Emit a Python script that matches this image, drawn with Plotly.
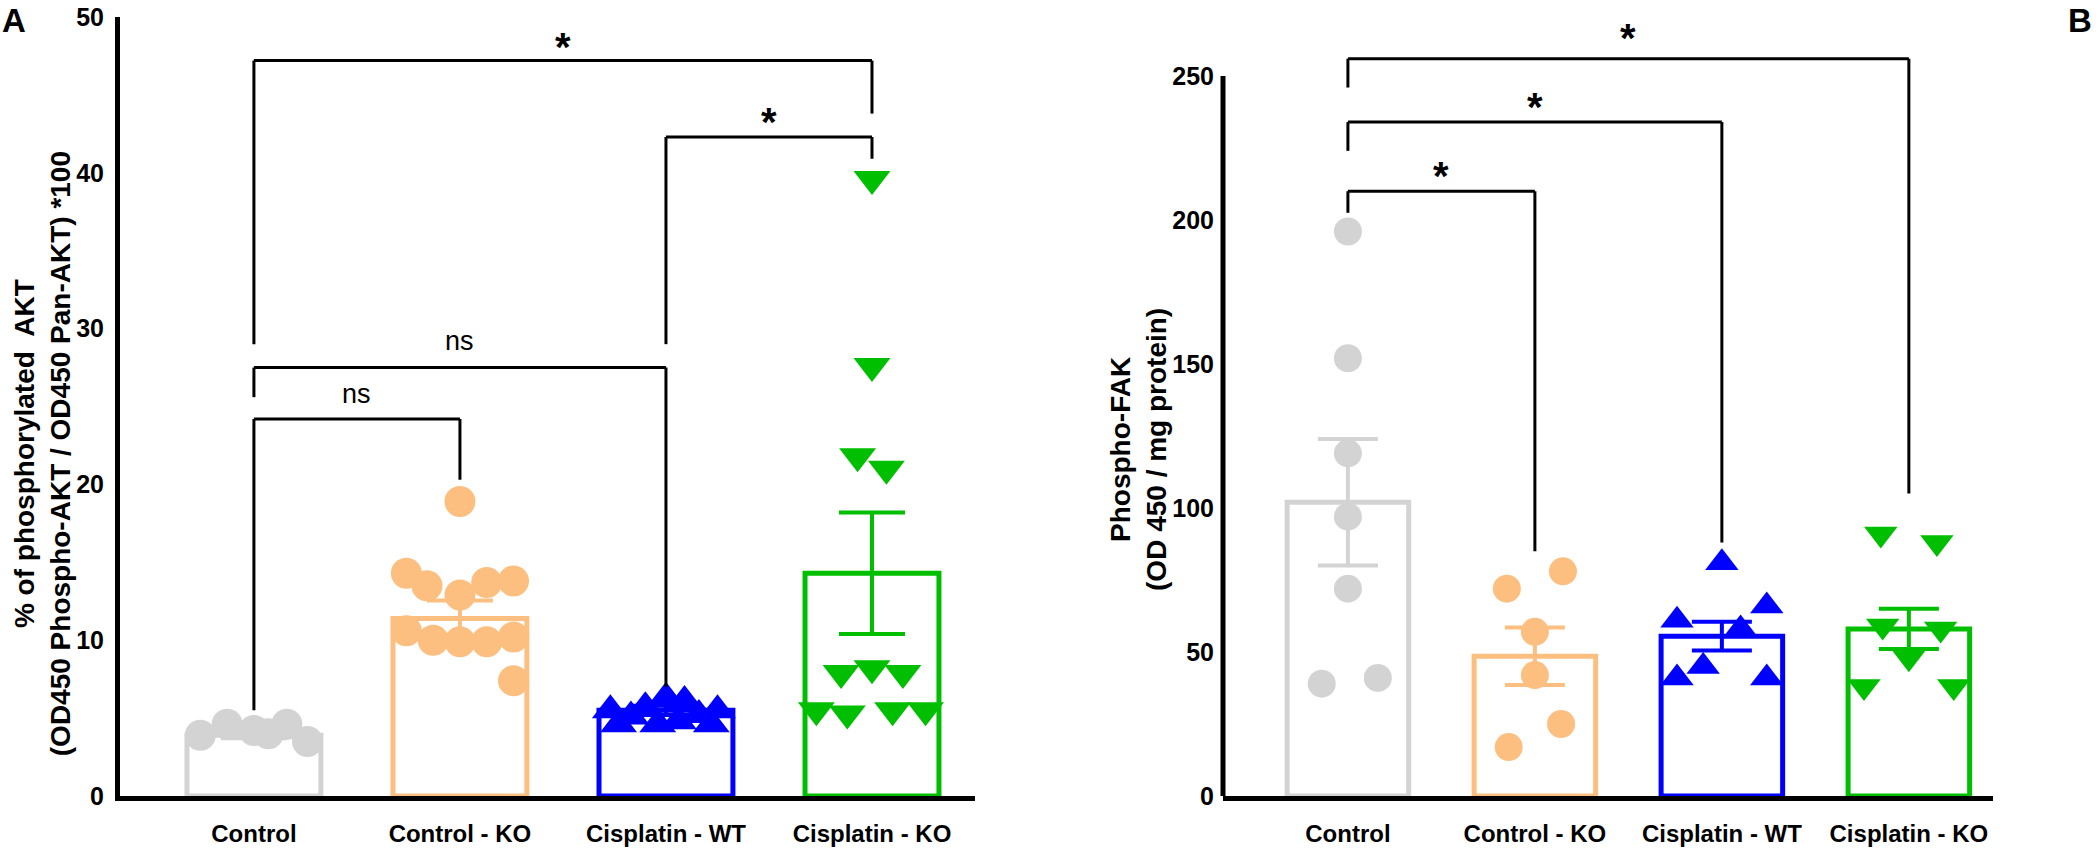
import plotly.graph_objects as go

# ---------------- data ----------------
groups = ["Control", "Control - KO", "Cisplatin - WT", "Cisplatin - KO"]
colors = ["#D3D3D3", "#FDBF80", "#0000FF", "#00BF00"]

# Panel A: % phosphorylated AKT
akt_mean = [3.9, 11.4, 5.5, 14.3]
akt_sem = [0.2, 1.15, 0.3, 3.9]
akt_ctrl = [3.9, 4.6, 4.2, 4.0, 4.6, 3.5]
akt_ctrl_ko = [18.9, 14.3, 13.5, 12.9, 13.7, 13.8, 10.6, 10.0, 9.9, 9.9, 10.2, 7.4]
akt_cis_wt = [5.5, 5.1, 5.7, 6.3, 6.1, 5.2, 5.5, 4.6, 4.6, 4.8, 4.6]
akt_cis_ko = [39.6, 27.6, 21.8, 21.0, 7.9, 8.2, 7.9, 5.5, 5.3, 5.5, 5.5]

# Panel B: Phospho-FAK
fak_mean = [102, 48.5, 55.5, 58]
fak_sem = [22, 10, 5, 7]
fak_ctrl = [196, 152, 119, 97, 72, 39, 41]
fak_ctrl_ko = [72, 78, 57, 42, 17, 25]
fak_cis_wt = [81, 66, 61, 58, 41, 45, 41]
fak_cis_ko = [91, 88, 59, 58, 48, 38, 38]

akt_yticks = [0, 10, 20, 30, 40, 50]
fak_yticks = [0, 50, 100, 150, 200, 250]

# comparison brackets: (left group, right group, top, left leg end, right leg end, label, label y)
akt_brackets = [
    (0, 3, 47.2, 29.0, 43.8, "*", 48.6),
    (2, 3, 42.3, 29.0, 40.9, "*", 43.8),
    (0, 2, 27.5, 25.6, 7.0, "ns", 29.2),
    (0, 1, 24.2, 5.5, 20.3, "ns", 25.8),
]
fak_brackets = [
    (0, 3, 256, 246, 105, "*", 266),
    (0, 2, 234, 224, 88, "*", 242),
    (0, 1, 210, 202.5, 85, "*", 218),
]

# point layout (horizontal spread within each group, in category units)
akt_jitter = [
    [-0.26, -0.13, 0.0, 0.07, 0.16, 0.26],
    [0.0, -0.26, -0.16, 0.0, 0.13, 0.26, -0.26, -0.13, 0.0, 0.13, 0.26, 0.26],
    [-0.27, -0.17, -0.10, 0.0, 0.09, 0.16, 0.25, -0.23, -0.04, 0.06, 0.22],
    [0.0, 0.0, -0.07, 0.07, -0.15, 0.0, 0.15, -0.27, -0.12, 0.10, 0.26],
]
fak_jitter = [
    [0, 0, 0, 0, 0, -0.14, 0.16],
    [-0.15, 0.15, 0.0, 0.0, -0.14, 0.14],
    [0.0, 0.24, -0.24, 0.1, -0.24, -0.1, 0.24],
    [-0.15, 0.15, -0.14, 0.17, 0.0, -0.24, 0.24],
]

akt_points = [akt_ctrl, akt_ctrl_ko, akt_cis_wt, akt_cis_ko]
fak_points = [fak_ctrl, fak_ctrl_ko, fak_cis_wt, fak_cis_ko]
symbols = ["circle", "circle", "triangle-up", "triangle-down"]

FONT = "Liberation Sans"
W, H = 2100, 849

fig = go.Figure()

def add_panel(xa, ya, means, sems, points, jitter, msize, cap):
    for i, g in enumerate(groups):
        fig.add_trace(go.Bar(
            x=[i], y=[means[i]], width=0.65, xaxis=xa, yaxis=ya,
            marker=dict(color="rgba(0,0,0,0)", line=dict(color=colors[i], width=5)),
            error_y=dict(type="data", array=[sems[i]], color=colors[i], thickness=4, width=cap),
            hoverinfo="skip", showlegend=False))
    for i, g in enumerate(groups):
        fig.add_trace(go.Scatter(
            x=[i + j for j in jitter[i]], y=points[i], mode="markers",
            xaxis=xa, yaxis=ya,
            marker=dict(symbol=symbols[i], size=msize[i], color=colors[i], line=dict(width=0)),
            showlegend=False, cliponaxis=False))

add_panel("x", "y", akt_mean, akt_sem, akt_points, akt_jitter, [31, 31, 32, 32], 33)
add_panel("x2", "y2", fak_mean, fak_sem, fak_points, fak_jitter, [28, 28, 29, 29], 30)

shapes = []
annotations = []

def add_brackets(brackets, xref, yref):
    for (a, b, top, la, ra, lab, ly) in brackets:
        pts = [(a, la), (a, top), (b, top), (b, ra)]
        for k in range(3):
            shapes.append(dict(type="line", xref=xref, yref=yref,
                               x0=pts[k][0], y0=pts[k][1], x1=pts[k + 1][0], y1=pts[k + 1][1],
                               line=dict(color="black", width=3)))
        if lab == "*":
            annotations.append(dict(x=(a + b) / 2, y=ly, xref=xref, yref=yref, text="<b>*</b>",
                                    showarrow=False, yanchor="middle", yshift=-8,
                                    font=dict(family=FONT, size=40, color="black")))
        else:
            annotations.append(dict(x=(a + b) / 2, y=ly, xref=xref, yref=yref, text=lab,
                                    showarrow=False, yanchor="middle",
                                    font=dict(family=FONT, size=27, color="black")))

add_brackets(akt_brackets, "x", "y")
add_brackets(fak_brackets, "x2", "y2")

# panel B y axis line (stops at 250)
bx = 1223 / W
shapes.append(dict(type="line", xref="paper", yref="y2", x0=bx, x1=bx, y0=0, y1=250,
                   line=dict(color="black", width=5)))

# axis titles
annotations.append(dict(x=42 / W, y=0.465, xref="paper", yref="paper", textangle=-90,
                        text="<b>% of phosphorylated  AKT<br>(OD450 Phospho-AKT / OD450 Pan-AKT) *100</b>",
                        showarrow=False, xanchor="center", yanchor="middle",
                        font=dict(family=FONT, size=28, color="black")))
annotations.append(dict(x=1139 / W, y=0.47, xref="paper", yref="paper", textangle=-90,
                        text="<b>Phospho-FAK<br>(OD 450 / mg protein)</b>",
                        showarrow=False, xanchor="center", yanchor="middle",
                        font=dict(family=FONT, size=28, color="black")))
# panel letters
annotations.append(dict(x=0, y=1.0, xref="paper", yref="paper", text="<b>A</b>",
                        showarrow=False, xanchor="left", yanchor="top",
                        font=dict(family=FONT, size=33, color="black")))
annotations.append(dict(x=0.997, y=1.0, xref="paper", yref="paper", text="<b>B</b>",
                        showarrow=False, xanchor="right", yanchor="top",
                        font=dict(family=FONT, size=33, color="black")))

tickfont_x = dict(family=FONT, size=24, color="black", weight="bold")
tickfont_y = dict(family=FONT, size=25, color="black", weight="bold")

y0p = 1 - 796 / H
common = dict(ticks="", showgrid=False, zeroline=False, automargin=False,
              ticklabeloverflow="allow")
fig.update_layout(
    width=W, height=H, margin=dict(l=0, r=0, t=0, b=0, pad=0),
    paper_bgcolor="white", plot_bgcolor="white", showlegend=False,
    barmode="overlay",
    shapes=shapes, annotations=annotations,
    xaxis=dict(domain=[120 / W, 975 / W], range=[-0.65, 3.5], anchor="y",
               tickvals=[0, 1, 2, 3], ticktext=groups, tickfont=tickfont_x,
               showline=True, linewidth=5, linecolor="black", ticklabelstandoff=12, **common),
    yaxis=dict(domain=[y0p, 1 - 17 / H], range=[0, 50], anchor="x",
               tickvals=akt_yticks, tickfont=tickfont_y,
               showline=True, linewidth=5, linecolor="black", ticklabelstandoff=6, **common),
    xaxis2=dict(domain=[1223 / W, 1993 / W], range=[-0.668, 3.45], anchor="y2",
                tickvals=[0, 1, 2, 3], ticktext=groups, tickfont=tickfont_x,
                showline=True, linewidth=5, linecolor="black", ticklabelstandoff=12, **common),
    yaxis2=dict(domain=[y0p, 1 - 4 / H], range=[0, 275], anchor="x2",
                tickvals=fak_yticks, tickfont=tickfont_y,
                showline=False, ticklabelstandoff=8, **common),
)

fig.write_html("out.html", config={"displayModeBar": False},
               post_script="document.body.style.margin='0';document.body.style.overflow='hidden';")
